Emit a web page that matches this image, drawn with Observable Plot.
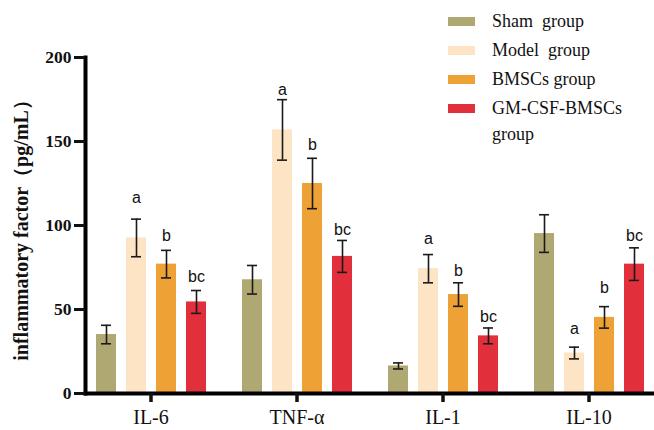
<!DOCTYPE html>
<html><head><meta charset="utf-8">
<script src="https://cdn.jsdelivr.net/npm/d3@7"></script>
<script src="https://cdn.jsdelivr.net/npm/@observablehq/plot@0.6"></script>
<style>
body{margin:0;background:#fff}
#wrap{position:relative;width:654px;height:430px;background:#fff}
#legend{position:absolute;left:448px;top:7.6px;font-family:"Liberation Serif",serif;font-size:18px;line-height:26px;color:#111}
.row{display:flex;align-items:flex-start;margin-bottom:3px}
.sw{width:27px;height:9px;margin-top:9px;margin-right:17px;flex:none}
.lab{white-space:pre-wrap;width:150px}
</style></head><body>
<div id="wrap"><div id="chart"></div><div id="legend"></div></div>
<script>
const groups = ["IL-6", "TNF-α", "IL-1", "IL-10"];
const seriesNames = ["Sham  group", "Model  group", "BMSCs group", "GM-CSF-BMSCs group"];
const colors = ["#AFA872", "#FCE4C4", "#EEA236", "#E1303B"];
const yTicks = [0, 50, 100, 150, 200];
const yLabel = "inflammatory factor（pg/mL）";

const shamMean = [35.1, 67.7, 16.4, 95.2];
const shamSD = [5.5, 8.5, 1.8, 11.2];
const modelMean = [92.6, 156.9, 74.3, 24.1];
const modelSD = [11.2, 18.0, 8.4, 3.5];
const bmscMean = [77.0, 125.0, 58.9, 45.3];
const bmscSD = [8.2, 15.0, 7.0, 6.4];
const gmMean = [54.5, 81.6, 34.3, 77.0];
const gmSD = [6.8, 9.5, 4.7, 9.7];

const shamLetters = ["", "", "", ""];
const modelLetters = ["a", "a", "a", "a"];
const bmscLetters = ["b", "b", "b", "b"];
const gmLetters = ["bc", "bc", "bc", "bc"];
const shamLetterY = [0, 0, 0, 0];
const modelLetterY = [113.5, 177.8, 89.2, 35.3];
const bmscLetterY = [90.8, 145.1, 70.2, 59.6];
const gmLetterY = [66.2, 94.2, 42.3, 90.8];

const means = [shamMean, modelMean, bmscMean, gmMean];
const sds = [shamSD, modelSD, bmscSD, gmSD];
const letters = [shamLetters, modelLetters, bmscLetters, gmLetters];
const letterYs = [shamLetterY, modelLetterY, bmscLetterY, gmLetterY];

const data = [];
groups.forEach((g, i) => {
  seriesNames.forEach((s, j) => {
    data.push({group: g, series: s, mean: means[j][i], sd: sds[j][i], letter: letters[j][i], ly: letterYs[j][i]});
  });
});

const errStroke = "#1a1a1a";
const plot = Plot.plot({
  width: 654, height: 430,
  marginLeft: 85, marginRight: 0, marginTop: 57, marginBottom: 37,
  fx: {domain: groups, paddingInner: 0.103, paddingOuter: 0, label: null},
  x: {domain: seriesNames, paddingInner: 0.34, paddingOuter: 0.283, axis: null},
  y: {domain: [0, 200]},
  color: {domain: seriesNames, range: colors},
  style: {fontFamily: "'Liberation Serif', serif", background: "white", overflow: "visible", color: "#111"},
  marks: [
    Plot.barY(data, {fx: "group", x: "series", y: "mean", fill: "series"}),
    Plot.ruleX(data, {fx: "group", x: "series", y1: d => d.mean - d.sd, y2: d => d.mean + d.sd, stroke: errStroke, strokeWidth: 1.6}),
    Plot.tickY(data, {fx: "group", x: "series", y: d => d.mean + d.sd, insetLeft: 5, insetRight: 5, stroke: errStroke, strokeWidth: 1.6}),
    Plot.tickY(data, {fx: "group", x: "series", y: d => d.mean - d.sd, insetLeft: 5, insetRight: 5, stroke: errStroke, strokeWidth: 1.6}),
    Plot.text(data.filter(d => d.letter), {fx: "group", x: "series", y: "ly", text: "letter", lineAnchor: "bottom", fontFamily: "'Liberation Sans', sans-serif", fontSize: 16, fill: "#111"}),
    Plot.frame({facet: "super", anchor: "bottom", strokeWidth: 4, stroke: "#000"}),
    Plot.frame({facet: "super", anchor: "left", strokeWidth: 4, stroke: "#000"}),
    Plot.axisY({ticks: yTicks, tickSize: 11, tickPadding: 3, strokeWidth: 3, fontSize: 17.5, fontWeight: "bold", label: null}),
    Plot.axisY({ticks: [], tickSize: 0, fontSize: 20, fontWeight: "bold", label: yLabel, labelAnchor: "center", labelOffset: 72, labelArrow: "none"}),
    Plot.axisFx({anchor: "bottom", tickSize: 9, tickPadding: 7, strokeWidth: 3.5, fontSize: 20, label: null})
  ]
});
document.getElementById("chart").appendChild(plot);

const legend = document.getElementById("legend");
seriesNames.forEach((s, j) => {
  const row = document.createElement("div");
  row.className = "row";
  const sw = document.createElement("div");
  sw.className = "sw";
  sw.style.background = colors[j];
  const lab = document.createElement("div");
  lab.className = "lab";
  lab.textContent = s;
  row.appendChild(sw);
  row.appendChild(lab);
  legend.appendChild(row);
});
</script>
</body></html>
